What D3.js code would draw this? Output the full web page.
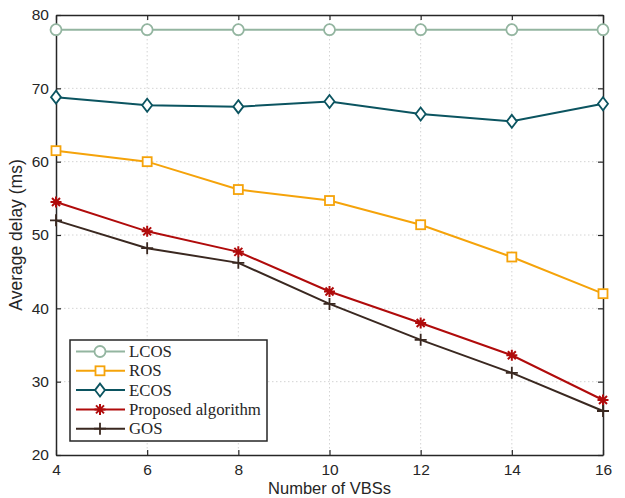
<!DOCTYPE html>
<html><head><meta charset="utf-8">
<script src="https://cdn.jsdelivr.net/npm/d3@7"></script>
<style>body{margin:0;background:#fff}svg{display:block}</style>
</head><body>
<script>
const xValues = [4, 6, 8, 10, 12, 14, 16];
const xTicks = [4, 6, 8, 10, 12, 14, 16];
const yTicks = [20, 30, 40, 50, 60, 70, 80];
const seriesNames = ["LCOS", "ROS", "ECOS", "Proposed algorithm", "GOS"];
const lcos = [78, 78, 78, 78, 78, 78, 78];
const ros = [61.5, 60.0, 56.2, 54.7, 51.4, 47.0, 42.0];
const ecos = [68.8, 67.7, 67.5, 68.2, 66.5, 65.5, 67.9];
const proposed = [54.5, 50.5, 47.7, 42.3, 38.0, 33.6, 27.5];
const gos = [52.0, 48.2, 46.2, 40.6, 35.7, 31.2, 26.0];
const seriesValues = [lcos, ros, ecos, proposed, gos];
const colors = ["#93b5a0", "#f5a30a", "#0b5460", "#b00b0b", "#3a2820"];
const markers = ["circle", "square", "diamond", "star", "plus"];

const W = 625, H = 498;
const m = {l: 56, r: 22, t: 15, b: 43};
const svg = d3.select("body").append("svg").attr("width", W).attr("height", H);
const x = d3.scaleLinear().domain([4, 16]).range([m.l, W - m.r]);
const y = d3.scaleLinear().domain([20, 80]).range([H - m.b, m.t]);
const x0 = m.l, x1 = W - m.r, y0 = m.t, y1 = H - m.b;

// grid
const g = svg.append("g");
g.selectAll(".gx").data(xTicks.slice(1, -1)).join("line")
  .attr("x1", d => x(d)).attr("x2", d => x(d)).attr("y1", y0).attr("y2", y1)
  .attr("stroke", "#d4d4d4").attr("stroke-width", 1).attr("stroke-dasharray", "1.5,2.5");
g.selectAll(".gy").data(yTicks.slice(1, -1)).join("line")
  .attr("y1", d => y(d)).attr("y2", d => y(d)).attr("x1", x0).attr("x2", x1)
  .attr("stroke", "#d4d4d4").attr("stroke-width", 1).attr("stroke-dasharray", "1.5,2.5");

// axes
const font = "'Liberation Sans', Arial, sans-serif";
const xAxis = svg.append("g").attr("transform", `translate(0,${y1})`)
  .call(d3.axisBottom(x).tickValues(xTicks).tickSize(-5).tickPadding(9).tickSizeOuter(0));
const xAxisTop = svg.append("g").attr("transform", `translate(0,${y0})`)
  .call(d3.axisTop(x).tickValues(xTicks).tickSize(-5).tickFormat("").tickSizeOuter(0));
const yAxis = svg.append("g").attr("transform", `translate(${x0},0)`)
  .call(d3.axisLeft(y).tickValues(yTicks).tickSize(-5).tickPadding(7).tickSizeOuter(0));
const yAxisR = svg.append("g").attr("transform", `translate(${x1},0)`)
  .call(d3.axisRight(y).tickValues(yTicks).tickSize(-5).tickFormat("").tickSizeOuter(0));
[xAxis, xAxisTop, yAxis, yAxisR].forEach(a => {
  a.selectAll("path").attr("stroke", "#262626").attr("stroke-width", 1.5);
  a.selectAll("line").attr("stroke", "#262626").attr("stroke-width", 1.2);
  a.selectAll("text").attr("fill", "#262626").style("font-family", font).style("font-size", "15.5px");
});

// lines
const line = d3.line().x((d, i) => x(xValues[i])).y(d => y(d));
function drawMarker(sel, type, color, cx, cy) {
  const gg = sel.append("g").attr("transform", `translate(${cx},${cy})`)
    .attr("fill", "none").attr("stroke", color).attr("stroke-width", 1.8);
  if (type === "circle") gg.append("circle").attr("r", 5.5).attr("fill", "#fff");
  else if (type === "square") gg.append("rect").attr("x", -4.5).attr("y", -4.5).attr("width", 9).attr("height", 9).attr("fill", "#fff");
  else if (type === "diamond") gg.append("path").attr("d", "M0,-6.5L5,0L0,6.5L-5,0Z").attr("fill", "#fff");
  else if (type === "star") {
    const r = 5.5, rd = 4;
    gg.append("path").attr("d", `M${-r},0H${r}M0,${-r}V${r}M${-rd},${-rd}L${rd},${rd}M${-rd},${rd}L${rd},${-rd}`).attr("stroke-width", 2);
  } else if (type === "plus") {
    gg.append("path").attr("d", "M-6,0H6M0,-6V6");
  }
}
seriesValues.forEach((vals, k) => {
  svg.append("path").datum(vals).attr("d", line).attr("fill", "none")
    .attr("stroke", colors[k]).attr("stroke-width", 2);
  vals.forEach((v, i) => drawMarker(svg, markers[k], colors[k], x(xValues[i]), y(v)));
});

// axis labels
svg.append("text").attr("x", (x0 + x1) / 2).attr("y", 494).attr("text-anchor", "middle")
  .style("font-family", font).style("font-size", "16.5px").attr("fill", "#262626").text("Number of VBSs");
svg.append("text").attr("transform", `translate(22,${(y0 + y1) / 2}) rotate(-90)`).attr("text-anchor", "middle")
  .style("font-family", font).style("font-size", "17.5px").attr("fill", "#262626").text("Average delay (ms)");

// legend
const lg = svg.append("g");
lg.append("rect").attr("x", 70).attr("y", 340).attr("width", 197).attr("height", 101)
  .attr("fill", "#fff").attr("stroke", "#262626").attr("stroke-width", 1.5);
seriesNames.forEach((name, k) => {
  const ly = 351.5 + k * 19.3;
  lg.append("line").attr("x1", 76).attr("x2", 125).attr("y1", ly).attr("y2", ly)
    .attr("stroke", colors[k]).attr("stroke-width", 2);
  drawMarker(lg, markers[k], colors[k], 100, ly);
  lg.append("text").attr("x", 129).attr("y", ly + 5.5)
    .style("font-family", "'Liberation Serif', 'Times New Roman', serif").style("font-size", "16.8px")
    .attr("fill", "#262626").text(name);
});
</script>
</body></html>
